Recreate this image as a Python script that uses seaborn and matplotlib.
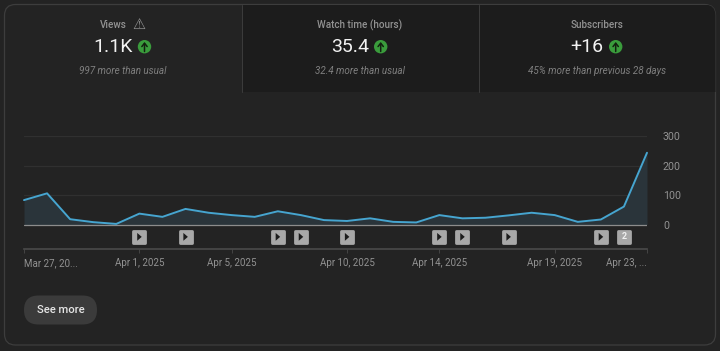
# -*- coding: utf-8 -*-

### Analytics card: views per day with top stat tiles ###

import matplotlib.pyplot as plt
from matplotlib.patches import Circle, FancyBboxPatch, Rectangle
import pandas as pd
import seaborn as sns

## Data ##
views = [83, 106, 18, 8, 2, 37, 26, 53, 40, 32, 26, 45, 32, 15, 12, 21, 9, 7, 32, 21,
         23, 31, 40, 32, 9, 17, 61, 244]
start_date = "2025-03-27"
tick_dates = ["2025-03-27", "2025-04-01", "2025-04-05", "2025-04-10", "2025-04-14",
              "2025-04-19", "2025-04-23"]
tick_labels = ["Mar 27, 20...", "Apr 1, 2025", "Apr 5, 2025", "Apr 10, 2025",
               "Apr 14, 2025", "Apr 19, 2025", "Apr 23, ..."]
y_ticks = [0, 100, 200, 300]
play_dates = ["2025-04-01", "2025-04-03", "2025-04-07", "2025-04-08", "2025-04-10",
              "2025-04-14", "2025-04-15", "2025-04-17", "2025-04-21"]
double_date = "2025-04-22"
double_label = "2"

tile_titles = ["Views", "Watch time (hours)", "Subscribers"]
tile_values = ["1.1K", "35.4", "+16"]
tile_notes = ["997 more than usual", "32.4 more than usual", "45% more than previous 28 days"]

## Colors ##
bg = "#232323"
tile_dark = "#1c1c1c"
border = "#3d3d3d"
grid = "#303030"
muted = "#929292"
line_color = "#46a5d0"
badge = "#a8a8a8"

sns.set_theme(style="dark", rc={"figure.facecolor": bg, "axes.facecolor": bg})
plt.rcParams["font.family"] = ["Roboto", "DejaVu Sans"]

df = pd.DataFrame({"date": pd.date_range(start_date, periods=len(views)), "views": views})

fig = plt.figure(figsize=(7.2, 3.51), dpi=100)
W, H = 720, 351

## Background layer in pixel coordinates ##
bk = fig.add_axes([0, 0, 1, 1], zorder=0)
bk.set_xlim(0, W)
bk.set_ylim(H, 0)
bk.axis("off")

card = FancyBboxPatch((4.5, 4.5), 711, 340.5, boxstyle="round,pad=0,rounding_size=11",
                      fc=bg, ec=border, lw=0.9, zorder=1)
bk.add_patch(card)
dark = Rectangle((242, 5), 474, 86.5, fc=tile_dark, ec="none", zorder=1.5)
bk.add_patch(dark)
dark.set_clip_path(card)
bk.plot([241.5, 241.5], [5, 91.5], color=border, lw=0.7, zorder=2)
bk.plot([478.5, 478.5], [5, 91.5], color=border, lw=0.7, zorder=2)
bk.add_patch(FancyBboxPatch((24, 295.5), 73, 29, boxstyle="round,pad=0,rounding_size=14.5",
                            fc="#3b3b3b", ec="none", zorder=2))
bk.text(60.5, 310, "See more", color="#e6e6e6", fontsize=8.1, fontweight="medium",
        ha="center", va="center", zorder=3)

## Stat tiles ##
title_x = [113.5, 360, 597]
value_x = [112.7, 350, 586.5]
icon_x = [144.5, 380.7, 615.7]
note_x = [123, 360, 597]
for i in range(3):
    bk.text(title_x[i], 25, tile_titles[i], color=muted, fontsize=7.1, fontweight="medium",
            ha="center", va="center", zorder=3)
    bk.text(value_x[i], 46.5, tile_values[i], color="#f2f2f2", fontsize=14,
            ha="center", va="center", zorder=3)
    bk.add_patch(Circle((icon_x[i], 46.7), 6.7, fc="#3a9c3c", ec="none", zorder=3))
    bk.annotate("", xy=(icon_x[i], 42), xytext=(icon_x[i], 51.5), zorder=4,
                arrowprops=dict(arrowstyle="->,head_width=0.16,head_length=0.2",
                                color="#12210f", lw=1.1, shrinkA=0, shrinkB=0))
    bk.text(note_x[i], 71, tile_notes[i], color="#7f7f7f", fontsize=7.15, style="italic",
            ha="center", va="center", zorder=3)
bk.text(139, 24.5, "⚠", color=muted, fontsize=10.5, family="DejaVu Sans",
        ha="center", va="center", zorder=3)

## Chart ##
# 300 sits at y=136.3 px, 0 at y=224.5 px, lower axis line at y=248.7 px
ax = fig.add_axes([24 / W, 1 - 248.7 / H, 623 / W, 112.4 / H], zorder=1)
ax.patch.set_alpha(0)
ax.set_xlim(df["date"].iloc[0], df["date"].iloc[-1])
ax.set_ylim(-82.3, 300)

for v in y_ticks[1:]:
    ax.axhline(v, color=grid, lw=0.9, zorder=1)
ax.axhline(0, color="#8c8c8c", lw=0.9, zorder=3)

ax.fill_between(df["date"], df["views"], 0, color="#2a343a", lw=0, zorder=2)
sns.lineplot(data=df, x="date", y="views", color=line_color, lw=1.4, ax=ax, zorder=4,
             clip_on=False)

# video markers
marker_y = -42
play_shape = [(-0.55, -1), (-0.55, 1), (0.6, 0)]
play_df = pd.DataFrame({"date": pd.to_datetime(play_dates), "y": marker_y})
all_df = pd.DataFrame({"date": pd.to_datetime(play_dates + [double_date]), "y": marker_y})
sns.scatterplot(data=all_df, x="date", y="y", marker="s", s=70, color=badge, edgecolor=badge,
                linewidth=2.0, joinstyle="round", ax=ax, zorder=5, legend=False)
sns.scatterplot(data=play_df, x="date", y="y", marker=play_shape, s=32, color="#1c1c1c",
                edgecolor="none", ax=ax, zorder=6, legend=False)
ax.text(pd.Timestamp(double_date), marker_y, double_label, color="#f0f0f0", fontsize=6.5,
        fontweight="bold", ha="center", va="center", zorder=6)

ax.set_xlabel("")
ax.set_ylabel("")
for s in ["top", "left", "right"]:
    ax.spines[s].set_visible(False)
ax.spines["bottom"].set_color("#4a4a4a")
ax.spines["bottom"].set_linewidth(1.2)

ax.set_xticks(pd.to_datetime(tick_dates))
ax.set_xticklabels(tick_labels, color=muted, fontsize=7)
ax.get_xticklabels()[0].set_ha("left")
ax.get_xticklabels()[-1].set_ha("right")
ax.tick_params(axis="x", bottom=True, length=3, width=0.6, color="#4a4a4a", pad=3.8)

ax.yaxis.tick_right()
ax.set_yticks(y_ticks)
ax.set_yticklabels([str(v) for v in y_ticks], color=muted, fontsize=7.7)
ax.tick_params(axis="y", length=0, pad=11.5)

fig.savefig("out.png", dpi=100, facecolor=bg)
